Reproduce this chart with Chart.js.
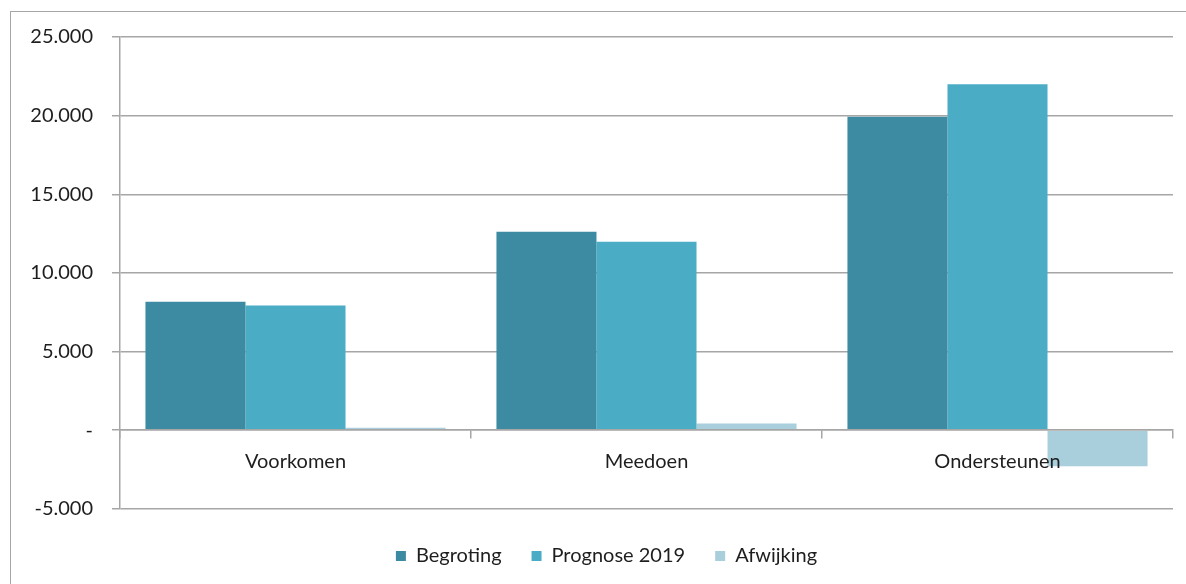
<!DOCTYPE html>
<html>
<head>
<meta charset="utf-8">
<script src="https://cdn.jsdelivr.net/npm/chart.js@4/dist/chart.umd.min.js"></script>
<style>
  html, body { margin: 0; padding: 0; background: #fff; overflow: hidden; }
  #wrap { position: relative; width: 1186px; height: 584px; }
  #frame { position: absolute; left: 10px; top: 11px; width: 1200px; height: 600px;
           border: 1.5px solid #a6a6a6; }
  #chart { position: absolute; left: 0; top: 0; }
</style>
</head>
<body>
<div id="wrap">
  <div id="frame"></div>
  <canvas id="chart" width="1186" height="584"></canvas>
</div>
<script>
var categories = ['Voorkomen', 'Meedoen', 'Ondersteunen'];
var begroting = [8160, 12620, 19930];
var prognose = [7930, 11980, 21990];
var afwijking = [150, 420, -2290];
var series_names = ['Begroting', 'Prognose 2019', 'Afwijking'];
var colors = ['#3d8ba2', '#4bacc6', '#a9cfdd'];

var grid_color = '#a6a6a6';
var text_color = '#1e1e1e';

function format_nl(value) {
    if (value === 0) return '-';
    var s = Math.abs(value).toString().replace(/\B(?=(\d{3})+(?!\d))/g, '.');
    return (value < 0 ? '-' : '') + s;
}

// legend in the original sits a bit right of the canvas centre
var legend_shift = {
    id: 'legend_shift',
    afterLayout: function (chart) {
        chart.legend.left += 15;
        chart.legend.right += 15;
    }
};

Chart.defaults.font.family = 'Lato';
Chart.defaults.font.size = 20;
Chart.defaults.color = text_color;

var ctx = document.getElementById('chart').getContext('2d');
window.budget_chart = new Chart(ctx, {
    type: 'bar',
    data: {
        labels: categories,
        datasets: [
            { label: series_names[0], data: begroting, backgroundColor: colors[0] },
            { label: series_names[1], data: prognose, backgroundColor: colors[1] },
            { label: series_names[2], data: afwijking, backgroundColor: colors[2] }
        ]
    },
    plugins: [legend_shift],
    options: {
        responsive: false,
        animation: false,
        devicePixelRatio: 1,
        categoryPercentage: 0.855,
        barPercentage: 1.0,
        layout: {
            padding: { top: 37, left: 10, right: 13, bottom: 8 }
        },
        plugins: {
            tooltip: { enabled: false },
            legend: {
                position: 'bottom',
                title: {
                    display: true,
                    text: ' ',
                    font: { size: 1 },
                    padding: { top: 6, bottom: 0 }
                },
                labels: {
                    boxWidth: 10,
                    boxHeight: 10,
                    padding: 30,
                    color: text_color,
                    font: { size: 20 }
                }
            }
        },
        scales: {
            x: {
                position: { y: 0 },
                grid: {
                    drawOnChartArea: false,
                    drawTicks: true,
                    tickLength: 8,
                    color: grid_color,
                    lineWidth: 1.5
                },
                border: { color: grid_color, width: 1.5, z: 1 },
                ticks: { padding: 11, color: text_color, z: 1 }
            },
            y: {
                min: -5000,
                max: 25000,
                afterFit: function (scale) { scale.width = 110; },
                ticks: {
                    stepSize: 5000,
                    padding: 19,
                    color: text_color,
                    callback: function (v) { return format_nl(v); }
                },
                grid: {
                    color: grid_color,
                    lineWidth: 1.5,
                    tickLength: 8
                },
                border: { color: grid_color, width: 1.5 }
            }
        }
    }
});
</script>
</body>
</html>
